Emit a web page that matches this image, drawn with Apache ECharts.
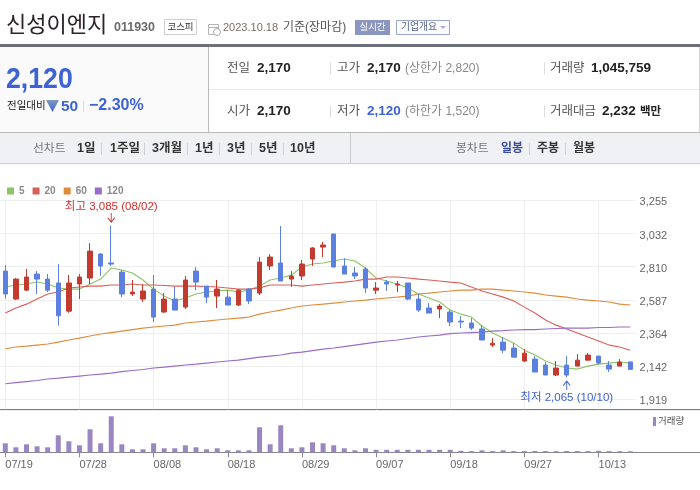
<!DOCTYPE html>
<html><head><meta charset="utf-8">
<style>html,body{margin:0;padding:0;background:#fff}#c{width:700px;height:490px}</style>
<script src="https://cdn.jsdelivr.net/npm/echarts@6/dist/echarts.min.js"></script>
</head><body><div id="c"></div>
<script>
const dates = ['07/19','07/20','07/21','07/24','07/25','07/26','07/27','07/28','07/31','08/01','08/02','08/03','08/04','08/07','08/08','08/09','08/10','08/11','08/14','08/16','08/17','08/18','08/21','08/22','08/23','08/24','08/25','08/28','08/29','08/30','08/31','09/01','09/04','09/05','09/06','09/07','09/08','09/11','09/12','09/13','09/14','09/15','09/18','09/19','09/20','09/21','09/22','09/25','09/26','09/27','10/04','10/05','10/06','10/10','10/11','10/12','10/13','10/16','10/17','10/18'];
// [open, close, low, high]
const ohlc = [[2780,2626,2595,2820],[2592,2726,2585,2733],[2652,2740,2646,2794],[2760,2726,2626,2780],[2726,2652,2639,2760],[2700,2480,2413,2827],[2511,2700,2500,2753],[2693,2740,2592,2760],[2733,2914,2693,2968],[2894,2814,2747,2901],[2834,2827,2814,3085],[2773,2626,2605,2787],[2626,2639,2612,2720],[2592,2646,2572,2693],[2659,2471,2438,2753],[2505,2592,2498,2632],[2592,2518,2518,2673],[2538,2720,2525,2747],[2780,2706,2652,2807],[2679,2605,2565,2679],[2612,2659,2532,2720],[2605,2552,2552,2652],[2552,2652,2545,2659],[2659,2579,2558,2666],[2632,2840,2619,2874],[2814,2874,2787,2894],[2834,2713,2713,3082],[2726,2747,2673,2780],[2747,2827,2720,2854],[2861,2935,2814,2941],[2941,2955,2874,2975],[3029,2807,2807,3029],[2814,2760,2760,2867],[2767,2747,2726,2807],[2794,2666,2632,2807],[2652,2666,2626,2706],[2706,2693,2646,2720],[2686,2693,2639,2713],[2700,2592,2585,2700],[2592,2518,2505,2626],[2532,2498,2498,2565],[2525,2545,2464,2558],[2505,2438,2411,2525],[2444,2438,2397,2478],[2431,2397,2384,2464],[2391,2317,2317,2417],[2283,2296,2270,2330],[2303,2249,2229,2337],[2263,2202,2202,2296],[2176,2229,2169,2256],[2189,2102,2102,2209],[2149,2082,2082,2169],[2082,2129,2075,2176],[2149,2082,2065,2209],[2142,2182,2142,2223],[2182,2216,2182,2229],[2209,2162,2155,2209],[2149,2122,2102,2176],[2142,2169,2142,2189],[2170,2120,2120,2170]];
const ma5 = [2673,2686,2693,2706,2693,2666,2659,2659,2693,2726,2800,2787,2767,2720,2659,2612,2579,2599,2626,2639,2646,2652,2639,2652,2679,2720,2733,2753,2807,2827,2834,2847,2861,2847,2800,2733,2713,2693,2666,2626,2599,2572,2518,2491,2471,2411,2364,2330,2296,2249,2216,2176,2149,2129,2122,2142,2155,2162,2169,2162];
const ma20 = [2498,2532,2558,2592,2626,2639,2666,2673,2679,2679,2686,2686,2693,2686,2686,2683,2679,2679,2679,2676,2673,2666,2659,2659,2666,2686,2686,2686,2679,2686,2693,2700,2706,2713,2726,2726,2740,2740,2733,2726,2720,2713,2706,2700,2673,2646,2626,2605,2579,2538,2498,2451,2417,2391,2364,2337,2310,2283,2270,2249];
const ma60 = [2258,2270,2276,2283,2290,2303,2317,2330,2344,2357,2367,2377,2387,2397,2404,2411,2417,2431,2438,2444,2451,2458,2464,2471,2491,2505,2518,2532,2545,2552,2558,2565,2572,2579,2585,2592,2599,2605,2612,2626,2632,2639,2646,2652,2652,2659,2659,2652,2646,2639,2632,2619,2612,2605,2592,2585,2579,2572,2558,2552];
const ma120 = [2023,2031,2038,2045,2055,2061,2068,2075,2082,2088,2095,2105,2112,2119,2129,2135,2142,2149,2155,2162,2169,2176,2182,2192,2202,2209,2216,2229,2236,2246,2256,2263,2273,2283,2293,2303,2310,2317,2327,2337,2344,2350,2360,2364,2367,2370,2377,2380,2384,2387,2387,2391,2394,2397,2397,2397,2401,2401,2404,2404];
const volume = [9000000,5000000,8000000,6000000,5000000,17000000,11000000,7000000,23000000,9000000,36000000,8000000,3000000,3000000,9000000,4000000,4000000,7000000,5000000,3000000,4000000,2000000,2000000,2000000,25000000,8000000,27000000,4000000,5000000,10000000,9000000,7000000,4000000,2000000,4000000,2500000,2500000,2500000,2500000,2500000,2500000,2500000,2500000,1500000,1200000,2000000,1200000,2000000,1200000,1200000,1300000,1200000,1100000,1300000,1200000,1200000,1500000,1200000,1100000,1045759];
const priceTicks = [1919,2142,2364,2587,2810,3032,3255];
const maNames = ['5','20','60','120'];
const maColors = ['#8cc466','#d9605a','#e08b3a','#9a6cc8'];
const UP = '#c23b2e', DOWN = '#5b80de', BLUE = '#3d63d4', FONT = '"Liberation Sans","Noto Sans CJK KR",sans-serif';

const g = [];
const rect = (x,y,w,h,fill,stroke) => g.push({type:'rect',shape:{x,y,width:w,height:h},style:{fill:fill||'none',stroke:stroke||null,lineWidth:stroke?1:0},silent:true});
const hl = (x1,x2,y,c) => rect(x1,y,x2-x1,1,c);
const vl = (x,y1,y2,c) => rect(x,y1,1,y2-y1,c);
const t = (x,y,text,size,color,bold,align,scaleX) => g.push({type:'text',x,y,scaleX:scaleX||1,silent:true,style:{text,fontSize:size,fill:color,fontWeight:bold?'bold':'normal',fontFamily:FONT,align:align||'left',verticalAlign:'middle'}});

// header
t(6,25.5,'신성이엔지',22,'#2b2328');
t(114,28,'011930',12.5,'#6a6a6a',true);
rect(164.5,19.5,32,15,'#fff','#cfcfcf'); t(180.5,27,'코스피',9.5,'#333',false,'center');
rect(208.5,24.5,10,10,'#fff','#b5b5b5'); hl(209,218,27,'#b5b5b5'); g.push({type:'circle',shape:{cx:217,cy:32,r:3.5},style:{fill:'#fff',stroke:'#aaa'},silent:true});
t(223,27.5,'2023.10.18',11,'#7a6f62');
t(283,27.5,'기준(장마감)',12,'#555');
rect(355,20,35,15,'#8c97bf'); t(372.5,27.5,'실시간',9.5,'#fff',false,'center');
rect(396.5,20.5,53,14,'#fbfbfe','#9aa5cc'); t(401,27.5,'기업개요',9.8,'#56658f');
g.push({type:'polygon',shape:{points:[[440,26],[446,26],[443,29]]},style:{fill:'#a8b0cc'},silent:true});
rect(0,44,700,3,'#6d7078');

// summary panel
rect(0,47,208,85,'#fafafa'); vl(208,47,132,'#b9b9b9'); hl(209,699,89,'#e6e6e6'); vl(699,47,163,'#d5d5d5');
t(6,79.5,'2,120',30,BLUE,true,'left',0.89);
t(7,106.5,'전일대비',10.5,'#222');
g.push({type:'polygon',shape:{points:[[46,100],[59,100],[52.5,112]]},style:{fill:{type:'linear',x:0,y:0,x2:0,y2:1,colorStops:[{offset:0,color:'#7f9bb8'},{offset:1,color:BLUE}]}},silent:true});
t(61,106.5,'50',15.5,BLUE,true); vl(83,101,112,'#ddd'); t(89,106,'−2.30%',16,BLUE,true);
const lab = '#555', val = '#222';
[[68.5],[111.5]].forEach(([y],r)=>{
  t(227,y,r?'시가':'전일',12.5,lab); t(257,y,'2,170',13.5,val,true);
  vl(330,y-6,y+6,'#ddd'); t(337,y,r?'저가':'고가',12.5,lab); t(367,y,r?'2,120':'2,170',13.5,r?BLUE:val,true);
  t(405,y,r?'(하한가 1,520)':'(상한가 2,820)',12,'#888');
  vl(544,y-6,y+6,'#ddd');
});
t(550,68.5,'거래량',12.5,lab); t(591,68.5,'1,045,759',13.5,val,true);
t(550,111.5,'거래대금',12.5,lab); t(602,111.5,'2,232',13.5,val,true); t(640,111.5,'백만',11.5,val,true);

// toolbar
rect(0,133,700,30,'#f0f1f5'); hl(0,700,132,'#b9b9b9'); hl(0,700,163,'#cfcfcf'); vl(350,133,163,'#c8c8c8');
t(33,149,'선차트',11.8,'#777');
[[77,'1일'],[110,'1주일'],[152,'3개월'],[195,'1년'],[227,'3년'],[259,'5년'],[290,'10년']].forEach(([x,s])=>t(x,149,s,12.5,'#333',true));
[101,144,187,219,251,283].forEach(x=>vl(x,143,155,'#d0d0d4'));
t(456,149,'봉차트',11.8,'#777');
t(501,149,'일봉',12,'#3b4c9c',true); vl(529,143,155,'#d0d0d4'); t(537,149,'주봉',12,'#333',true); vl(565,143,155,'#d0d0d4'); t(573,149,'월봉',12,'#333',true);

// chart frame
hl(0,700,409,'#777b80'); hl(0,700,410,'#eceef0'); hl(0,700,452,'#85868a');
rect(653,417,3,9,'#9a86c0'); t(658,421.5,'거래량',9.5,'#555');

const arrowDown = 'path://M5 0V10M0 5L5 10L10 5';
const arrowUp = 'path://M5 10V0M0 5L5 0L10 5';
const lineS = (name,data,color)=>({name,type:'line',data,xAxisIndex:0,yAxisIndex:0,symbol:'none',smooth:false,z:2,color,lineStyle:{width:1.1,color},itemStyle:{color},emphasis:{disabled:true},silent:true});

const option = {
  animation:false, backgroundColor:'#fff', textStyle:{fontFamily:FONT},
  graphic:{elements:g},
  legend:{left:7,top:186,padding:0,icon:'rect',itemWidth:7,itemHeight:7,itemGap:8,selectedMode:false,data:maNames,textStyle:{color:'#8a8a8a',fontSize:10,fontWeight:'bold',fontFamily:FONT}},
  grid:[{left:0,width:635.6,top:200.3,height:209},{left:0,width:635.6,top:409.3,height:43}],
  xAxis:[
    {type:'category',data:dates,gridIndex:0,boundaryGap:true,axisLine:{show:false},axisTick:{show:false},axisLabel:{show:false},
     splitLine:{show:true,interval:6,alignWithLabel:true,lineStyle:{color:'#eeeeee',width:1}}},
    {type:'category',data:dates,gridIndex:1,boundaryGap:true,axisLine:{show:false},
     axisTick:{show:true,interval:6,alignWithLabel:true,length:5,lineStyle:{color:'#888'}},
     axisLabel:{show:true,interval:6,align:'left',margin:7,color:'#666',fontSize:11,fontFamily:FONT,showMinLabel:true},splitLine:{show:false}}
  ],
  yAxis:[
    {type:'value',gridIndex:0,position:'right',min:1852,max:3255,axisLine:{show:false},
     axisTick:{show:false,customValues:priceTicks},
     axisLabel:{customValues:priceTicks,showMaxLabel:true,showMinLabel:true,margin:4,
       formatter:v=>'{p|'+v.toLocaleString('en-US')+'}',
       rich:{p:{color:'#666',fontSize:11,fontFamily:FONT,padding:[4,0,0,0]}}},
     splitLine:{show:true,lineStyle:{color:'#eeeeee',width:1}}},
    {type:'value',gridIndex:1,min:0,max:43000000,show:false,splitLine:{show:false}}
  ],
  series:[
    lineS(maNames[0],ma5,maColors[0]),lineS(maNames[1],ma20,maColors[1]),lineS(maNames[2],ma60,maColors[2]),lineS(maNames[3],ma120,maColors[3]),
    {type:'candlestick',name:'일봉',data:ohlc,xAxisIndex:0,yAxisIndex:0,z:3,barWidth:5,silent:true,
     itemStyle:{color:UP,color0:DOWN,borderColor:UP,borderColor0:DOWN,borderWidth:1},
     markPoint:{silent:true,animation:false,data:[
       {coord:[dates[10],3085],symbol:arrowDown,symbolSize:[7,9],symbolOffset:[0,-8],itemStyle:{color:'none',borderColor:'#c9302c',borderWidth:1},
        label:{show:true,position:'top',distance:1,offset:[0,3],formatter:'최고 3,085 (08/02)',color:'#d0322e',fontSize:11.5,fontFamily:FONT}},
       {coord:[dates[53],2065],symbol:arrowUp,symbolSize:[7,9],symbolOffset:[0,8],itemStyle:{color:'none',borderColor:'#3d63d4',borderWidth:1},
        label:{show:true,position:'bottom',distance:1,offset:[0,-2],formatter:'최저 2,065 (10/10)',color:'#3d63d4',fontSize:11.5,fontFamily:FONT}}
     ]}},
    {type:'bar',name:'거래량',data:volume,xAxisIndex:1,yAxisIndex:1,barWidth:5,z:3,silent:true,itemStyle:{color:'#9a86c0'}}
  ]
};
const chart = echarts.init(document.getElementById('c'),null,{renderer:'canvas'});
chart.setOption(option);
</script></body></html>
